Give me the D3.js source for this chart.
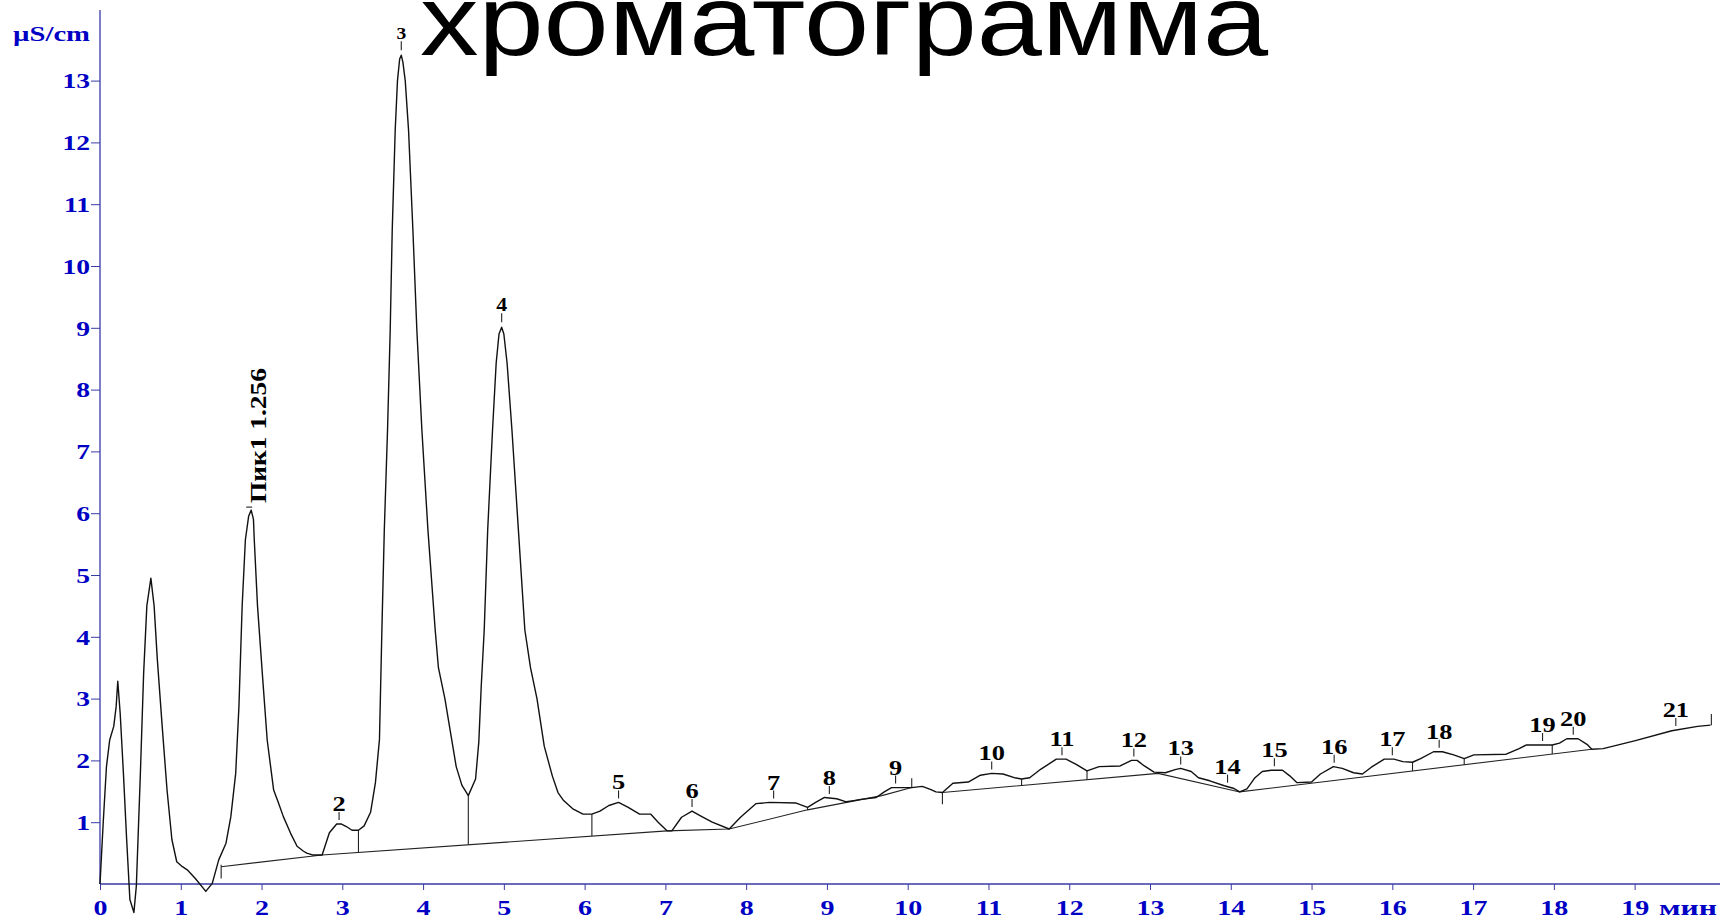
<!DOCTYPE html>
<html>
<head>
<meta charset="utf-8">
<script src="https://cdn.jsdelivr.net/npm/d3@7"></script>
<style>
  body { margin: 0; background: #fff; }
  svg { display: block; }
</style>
</head>
<body>
<svg id="chart" width="1720" height="923"></svg>
<script>
// время удерживания (мин) и сигнал (µS/cm)
const retTime = [
  0.00, 0.02, 0.04, 0.08, 0.12, 0.17, 0.20, 0.22, 0.25, 0.29, 0.33, 0.37, 0.42, 0.45,
  0.50, 0.54, 0.58, 0.63, 0.67, 0.71, 0.77, 0.83, 0.89, 0.95, 1.02, 1.08, 1.18, 1.31,
  1.39, 1.47, 1.56, 1.62, 1.68, 1.72, 1.76, 1.80, 1.84, 1.872, 1.90, 1.91, 1.95, 2.01,
  2.07, 2.15, 2.21, 2.27, 2.36, 2.44, 2.52, 2.56, 2.63, 2.75, 2.84, 2.93, 2.99, 3.05,
  3.12, 3.20, 3.27, 3.35, 3.41, 3.46, 3.49, 3.52, 3.56, 3.593, 3.618, 3.655, 3.683, 3.71,
  3.73, 3.75, 3.779, 3.82, 3.874, 3.923, 3.985, 4.06, 4.15, 4.19, 4.27, 4.34, 4.41, 4.48,
  4.56, 4.65, 4.69, 4.72, 4.757, 4.80, 4.86, 4.905, 4.94, 4.973, 5.00, 5.04, 5.10, 5.18,
  5.26, 5.33, 5.41, 5.50, 5.60, 5.67, 5.74, 5.86, 5.98, 6.09, 6.19, 6.30, 6.42, 6.54,
  6.68, 6.82, 6.91, 7.02, 7.08, 7.20, 7.33, 7.44, 7.58, 7.79, 7.93, 8.12, 8.29, 8.62,
  8.76, 8.86, 8.97, 9.12, 9.24, 9.33, 9.42, 9.61, 9.71, 9.80, 10.05, 10.18, 10.28, 10.35,
  10.43, 10.56, 10.75, 10.90, 11.04, 11.18, 11.32, 11.41, 11.51, 11.65, 11.84, 11.96, 12.08, 12.22,
  12.37, 12.63, 12.77, 12.84, 12.93, 13.05, 13.19, 13.31, 13.38, 13.51, 13.60, 13.74, 13.92, 14.03,
  14.11, 14.20, 14.30, 14.39, 14.50, 14.64, 14.73, 14.82, 15.00, 15.11, 15.27, 15.38, 15.52, 15.63,
  15.74, 15.90, 16.02, 16.13, 16.25, 16.35, 16.51, 16.62, 16.76, 16.89, 17.01, 17.41, 17.57, 17.66,
  17.98, 18.07, 18.16, 18.30, 18.41, 18.47, 18.61, 19.01, 19.46, 19.78, 19.94
];
const signal = [
  0.00, 0.50, 1.00, 1.90, 2.33, 2.55, 2.87, 3.28, 2.76, 1.79, 0.72, -0.25, -0.46, -0.03,
  1.79, 3.40, 4.50, 4.95, 4.50, 3.63, 2.55, 1.52, 0.72, 0.36, 0.28, 0.23, 0.09, -0.12,
  0.01, 0.39, 0.66, 1.09, 1.79, 2.87, 4.50, 5.57, 5.95, 6.05, 5.90, 5.57, 4.50, 3.40,
  2.33, 1.52, 1.31, 1.09, 0.82, 0.61, 0.53, 0.50, 0.47, 0.47, 0.83, 0.97, 0.97, 0.93,
  0.87, 0.87, 0.94, 1.16, 1.64, 2.34, 4.11, 5.73, 7.35, 8.96, 10.58, 12.20, 13.00, 13.35,
  13.41, 13.30, 13.00, 12.20, 10.58, 8.96, 7.35, 5.73, 4.11, 3.50, 3.00, 2.45, 1.90, 1.60,
  1.43, 1.70, 2.30, 3.20, 4.11, 5.73, 7.35, 8.43, 8.90, 9.01, 8.90, 8.43, 7.35, 5.73,
  4.11, 3.50, 3.00, 2.23, 1.75, 1.48, 1.35, 1.21, 1.13, 1.13, 1.18, 1.27, 1.32, 1.24,
  1.13, 1.13, 1.00, 0.86, 0.86, 1.08, 1.18, 1.10, 1.00, 0.89, 1.08, 1.30, 1.32, 1.31,
  1.24, 1.32, 1.40, 1.38, 1.33, 1.35, 1.37, 1.40, 1.49, 1.56, 1.56, 1.58, 1.53, 1.49,
  1.48, 1.63, 1.65, 1.76, 1.79, 1.78, 1.72, 1.70, 1.72, 1.86, 2.02, 2.02, 1.94, 1.83,
  1.90, 1.91, 2.00, 2.00, 1.91, 1.81, 1.80, 1.85, 1.87, 1.82, 1.72, 1.67, 1.59, 1.55,
  1.49, 1.54, 1.72, 1.82, 1.84, 1.84, 1.75, 1.64, 1.65, 1.78, 1.90, 1.87, 1.80, 1.78,
  1.89, 2.02, 2.02, 1.98, 1.97, 2.03, 2.14, 2.14, 2.09, 2.03, 2.09, 2.10, 2.19, 2.25,
  2.25, 2.28, 2.35, 2.35, 2.26, 2.18, 2.19, 2.32, 2.48, 2.55, 2.57
];

// базовые линии интегрирования
const base1Time = [1.50, 2.75, 7.02, 7.79, 8.76, 9.68, 10.05];
const base1Value = [0.28, 0.47, 0.86, 0.89, 1.20, 1.43, 1.56];
const base2Time = [10.43, 13.10, 14.11, 18.47];
const base2Value = [1.48, 1.79, 1.49, 2.18];

// вертикальные линии раздела пиков
const dropTimes = [3.20, 4.56, 6.09, 8.76, 11.41, 12.22, 16.25, 16.89, 17.98];

// метки пиков
const peakNames = ["2", "5", "6", "7", "8", "9", "10", "11", "12", "13", "14",
  "15", "16", "17", "18", "19", "20", "21"];
const peakTimes = [2.96, 6.42, 7.33, 8.34, 9.03, 9.85, 11.04, 11.91, 12.80, 13.38, 13.96,
  14.54, 15.28, 16.00, 16.58, 17.86, 18.24, 19.51];

const xTicks = d3.range(0, 20);
const yTicks = d3.range(1, 14);

const svg = d3.select("#chart");
const x = d3.scaleLinear().domain([0, 20]).range([100, 1715.4]);
const y = d3.scaleLinear().domain([0, 13]).range([884, 80.6]);

const axisColor = "#3a3aa6";
const labelColor = "#0000c4";
const serif = "'Liberation Serif', 'Times New Roman', serif";

// растянуть текст по ширине, как на исходной картинке
function stretch(sel, k) {
  sel.each(function () {
    const L = this.getComputedTextLength();
    d3.select(this).attr("textLength", L * k).attr("lengthAdjust", "spacingAndGlyphs");
  });
}

function valueAt(tArr, vArr, t) {
  const i = d3.bisectLeft(tArr, t);
  if (i <= 0) return vArr[0];
  if (i >= tArr.length) return vArr[vArr.length - 1];
  const f = (t - tArr[i - 1]) / (tArr[i] - tArr[i - 1]);
  return vArr[i - 1] + f * (vArr[i] - vArr[i - 1]);
}
const curveAt = (t) => valueAt(retTime, signal, t);
const baseAt = (t) => (t < 10.2 ? valueAt(base1Time, base1Value, t) : valueAt(base2Time, base2Value, t));

// заголовок
svg.append("text")
  .attr("x", 420)
  .attr("y", 55)
  .attr("font-family", "'Liberation Sans', Arial, sans-serif")
  .attr("font-size", 100)
  .attr("fill", "#000")
  .attr("textLength", 848)
  .attr("lengthAdjust", "spacingAndGlyphs")
  .text("хроматограмма");

// оси
const xAxis = svg.append("g")
  .attr("transform", `translate(0,${y(0)})`)
  .call(d3.axisBottom(x).tickValues(xTicks).tickSize(6).tickSizeOuter(0).tickFormat(d3.format("d")));
xAxis.select(".domain").remove();
xAxis.selectAll("line").attr("stroke", axisColor);
xAxis.selectAll("text")
  .attr("y", 31).attr("dy", null)
  .attr("font-family", serif).attr("font-weight", "bold").attr("font-size", 20)
  .attr("fill", labelColor)
  .call(stretch, 1.4);

const yAxis = svg.append("g")
  .attr("transform", `translate(${x(0)},0)`)
  .call(d3.axisLeft(y).tickValues(yTicks).tickSize(9).tickSizeOuter(0).tickFormat(d3.format("d")));
yAxis.select(".domain").remove();
yAxis.selectAll("line").attr("stroke", axisColor);
yAxis.selectAll("text")
  .attr("x", -10).attr("dy", "0.36em")
  .attr("font-family", serif).attr("font-weight", "bold").attr("font-size", 20)
  .attr("fill", labelColor)
  .call(stretch, 1.38);

svg.append("line")
  .attr("x1", x(0)).attr("x2", 1720).attr("y1", y(0)).attr("y2", y(0))
  .attr("stroke", axisColor).attr("stroke-width", 1.3);
svg.append("line")
  .attr("x1", x(0)).attr("x2", x(0)).attr("y1", y(0)).attr("y2", 10)
  .attr("stroke", axisColor).attr("stroke-width", 1.3);

svg.append("text")
  .attr("x", 13).attr("y", 41)
  .attr("font-family", serif).attr("font-weight", "bold").attr("font-size", 20)
  .attr("fill", labelColor)
  .attr("textLength", 77).attr("lengthAdjust", "spacingAndGlyphs")
  .text("µS/cm");

svg.append("text")
  .attr("x", 1659).attr("y", 915)
  .attr("font-family", serif).attr("font-weight", "bold").attr("font-size", 20)
  .attr("fill", labelColor)
  .attr("textLength", 58).attr("lengthAdjust", "spacingAndGlyphs")
  .text("мин");

// базовые линии
const line = d3.line().x((d) => x(d[0])).y((d) => y(d[1]));
[d3.zip(base1Time, base1Value), d3.zip(base2Time, base2Value)].forEach((pts) => {
  svg.append("path")
    .attr("d", line(pts))
    .attr("fill", "none")
    .attr("stroke", "#222")
    .attr("stroke-width", 1.1);
});

// линии раздела пиков
svg.selectAll(".drop")
  .data(dropTimes)
  .enter()
  .append("line")
  .attr("class", "drop")
  .attr("x1", (d) => x(d)).attr("x2", (d) => x(d))
  .attr("y1", (d) => y(curveAt(d))).attr("y2", (d) => y(baseAt(d)))
  .attr("stroke", "#222").attr("stroke-width", 1.1);

// отметки начала/конца
const markTime = [1.50, 10.05, 10.43, 19.95];
const markFrom = [0.31, 1.56, 1.48, 2.57];
const markTo = [0.09, 1.71, 1.29, 2.75];
svg.selectAll(".mark")
  .data(d3.zip(markTime, markFrom, markTo))
  .enter()
  .append("line")
  .attr("class", "mark")
  .attr("x1", (d) => x(d[0])).attr("x2", (d) => x(d[0]))
  .attr("y1", (d) => y(d[1])).attr("y2", (d) => y(d[2]))
  .attr("stroke", "#222").attr("stroke-width", 1.1);

// хроматограмма
svg.append("path")
  .attr("d", line(d3.zip(retTime, signal)))
  .attr("fill", "none")
  .attr("stroke", "#111")
  .attr("stroke-width", 1.4)
  .attr("stroke-linejoin", "round");

// метки пиков
const labels = svg.selectAll(".peak")
  .data(d3.zip(peakNames, peakTimes))
  .enter()
  .append("g")
  .attr("class", "peak")
  .attr("transform", (d) => `translate(${x(d[1])},${y(curveAt(d[1]))})`);
labels.append("line")
  .attr("y1", -4).attr("y2", -12)
  .attr("stroke", "#222").attr("stroke-width", 1.1);
labels.append("text")
  .attr("y", -13)
  .attr("text-anchor", "middle")
  .attr("font-family", serif).attr("font-weight", "bold").attr("font-size", 22)
  .attr("fill", "#000")
  .text((d) => d[0])
  .call(stretch, 1.2);

// пики 3 и 4
const bigNames = ["3", "4"];
const bigTimes = [3.73, 4.973];
const bigSizes = [17, 19];
bigNames.forEach((name, i) => {
  const g = svg.append("g")
    .attr("transform", `translate(${x(bigTimes[i])},${y(curveAt(bigTimes[i]))})`);
  g.append("line").attr("y1", -5).attr("y2", -14).attr("stroke", "#222").attr("stroke-width", 1.1);
  g.append("text")
    .attr("y", -16)
    .attr("text-anchor", "middle")
    .attr("font-family", serif).attr("font-weight", "bold").attr("font-size", bigSizes[i])
    .attr("fill", "#000")
    .text(name)
    .call(stretch, 1.15);
});

// подпись Пик1
const p1 = 1.872;
const p1x = x(p1), p1y = y(curveAt(p1));
svg.append("line")
  .attr("x1", p1x - 5).attr("x2", p1x + 1)
  .attr("y1", p1y - 3).attr("y2", p1y - 3)
  .attr("stroke", "#222").attr("stroke-width", 1.1);
svg.append("text")
  .attr("transform", `translate(${p1x + 15},${p1y - 7}) rotate(-90)`)
  .attr("font-family", serif).attr("font-weight", "bold").attr("font-size", 24)
  .attr("fill", "#000")
  .attr("textLength", 135).attr("lengthAdjust", "spacingAndGlyphs")
  .text("Пик1 1.256");
</script>
</body>
</html>
